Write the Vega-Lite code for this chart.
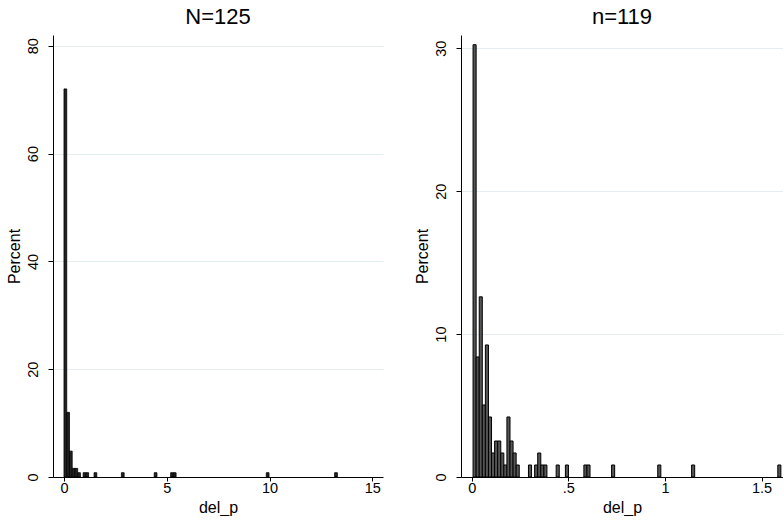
{
  "$schema": "https://vega.github.io/schema/vega-lite/v6.json",
  "background": "white",
  "padding": {"left": 6, "top": 6, "right": 0, "bottom": 0},
  "bounds": "flush",
  "spacing": 78,
  "config": {
    "font": "Liberation Sans",
    "view": {"stroke": null},
    "title": {"fontSize": 22, "fontWeight": "normal", "color": "black", "offset": 6, "anchor": "middle"},
    "axis": {
      "domainColor": "black", "tickColor": "black", "labelColor": "black", "titleColor": "black",
      "labelFontSize": 14.5, "titleFontSize": 16, "titleFontWeight": "normal",
      "gridColor": "#e4eef0", "gridWidth": 1, "tickSize": 5
    },
    "axisY": {"labelAngle": -90, "labelAlign": "center", "labelBaseline": "bottom", "labelPadding": 8, "titlePadding": 3},
    "axisX": {"grid": false, "tickSize": 4, "labelPadding": 0, "titlePadding": 5, "labelFlush": false}
  },
  "datasets": {
    "all": [
      {"x0": 0.0, "x1": 0.133, "pct": 72.0},
      {"x0": 0.133, "x1": 0.266, "pct": 12.0},
      {"x0": 0.266, "x1": 0.399, "pct": 4.8},
      {"x0": 0.399, "x1": 0.532, "pct": 1.6},
      {"x0": 0.532, "x1": 0.665, "pct": 1.6},
      {"x0": 0.665, "x1": 0.798, "pct": 0.8},
      {"x0": 0.931, "x1": 1.064, "pct": 0.8},
      {"x0": 1.064, "x1": 1.197, "pct": 0.8},
      {"x0": 1.463, "x1": 1.596, "pct": 0.8},
      {"x0": 2.793, "x1": 2.926, "pct": 0.8},
      {"x0": 4.389, "x1": 4.522, "pct": 0.8},
      {"x0": 5.187, "x1": 5.32, "pct": 0.8},
      {"x0": 5.32, "x1": 5.453, "pct": 0.8},
      {"x0": 9.842, "x1": 9.975, "pct": 0.8},
      {"x0": 13.167, "x1": 13.3, "pct": 0.8}
    ],
    "sub": [
      {"x0": 0.0070, "x1": 0.0229, "pct": 30.25},
      {"x0": 0.0229, "x1": 0.0389, "pct": 8.40},
      {"x0": 0.0389, "x1": 0.0548, "pct": 12.61},
      {"x0": 0.0548, "x1": 0.0707, "pct": 5.04},
      {"x0": 0.0707, "x1": 0.0867, "pct": 9.24},
      {"x0": 0.0867, "x1": 0.1026, "pct": 4.20},
      {"x0": 0.1026, "x1": 0.1185, "pct": 1.68},
      {"x0": 0.1185, "x1": 0.1344, "pct": 2.52},
      {"x0": 0.1344, "x1": 0.1504, "pct": 2.52},
      {"x0": 0.1504, "x1": 0.1663, "pct": 1.68},
      {"x0": 0.1663, "x1": 0.1822, "pct": 0.84},
      {"x0": 0.1822, "x1": 0.1982, "pct": 4.20},
      {"x0": 0.1982, "x1": 0.2141, "pct": 2.52},
      {"x0": 0.2141, "x1": 0.2300, "pct": 1.68},
      {"x0": 0.2300, "x1": 0.2460, "pct": 0.84},
      {"x0": 0.2937, "x1": 0.3097, "pct": 0.84},
      {"x0": 0.3256, "x1": 0.3415, "pct": 0.84},
      {"x0": 0.3415, "x1": 0.3575, "pct": 1.68},
      {"x0": 0.3575, "x1": 0.3734, "pct": 0.84},
      {"x0": 0.3734, "x1": 0.3893, "pct": 0.84},
      {"x0": 0.4371, "x1": 0.4531, "pct": 0.84},
      {"x0": 0.4849, "x1": 0.5008, "pct": 0.84},
      {"x0": 0.5805, "x1": 0.5964, "pct": 0.84},
      {"x0": 0.5964, "x1": 0.6123, "pct": 0.84},
      {"x0": 0.7239, "x1": 0.7398, "pct": 0.84},
      {"x0": 0.9628, "x1": 0.9788, "pct": 0.84},
      {"x0": 1.1380, "x1": 1.1539, "pct": 0.84},
      {"x0": 1.5841, "x1": 1.6000, "pct": 0.84}
    ]
  },
  "hconcat": [
    {
      "title": "N=125",
      "width": 330,
      "height": 442,
      "data": {"name": "all"},
      "mark": {"type": "bar", "fill": "#222222", "stroke": "black", "strokeWidth": 0.8},
      "encoding": {
        "x": {"field": "x0", "type": "quantitative", "scale": {"domain": [-0.535, 15.52], "nice": false, "zero": false},
              "axis": {"values": [0, 5, 10, 15], "title": "del_p"}},
        "x2": {"field": "x1"},
        "y": {"field": "pct", "type": "quantitative", "scale": {"domain": [0, 82], "nice": false},
              "axis": {"values": [0, 20, 40, 60, 80], "title": "Percent"}},
        "y2": {"datum": 0}
      }
    },
    {
      "title": "n=119",
      "width": 322,
      "height": 442,
      "data": {"name": "sub"},
      "mark": {"type": "bar", "fill": "#555555", "stroke": "black", "strokeWidth": 1},
      "encoding": {
        "x": {"field": "x0", "type": "quantitative", "scale": {"domain": [-0.0554, 1.611], "nice": false, "zero": false},
              "axis": {"values": [0, 0.5, 1, 1.5], "title": "del_p", "labelExpr": "datum.value == 0.5 ? '.5' : datum.value == 1.5 ? '1.5' : datum.value == 1 ? '1' : '0'"}},
        "x2": {"field": "x1"},
        "y": {"field": "pct", "type": "quantitative", "scale": {"domain": [0, 30.93], "nice": false},
              "axis": {"values": [0, 10, 20, 30], "title": "Percent"}},
        "y2": {"datum": 0}
      }
    }
  ]
}
